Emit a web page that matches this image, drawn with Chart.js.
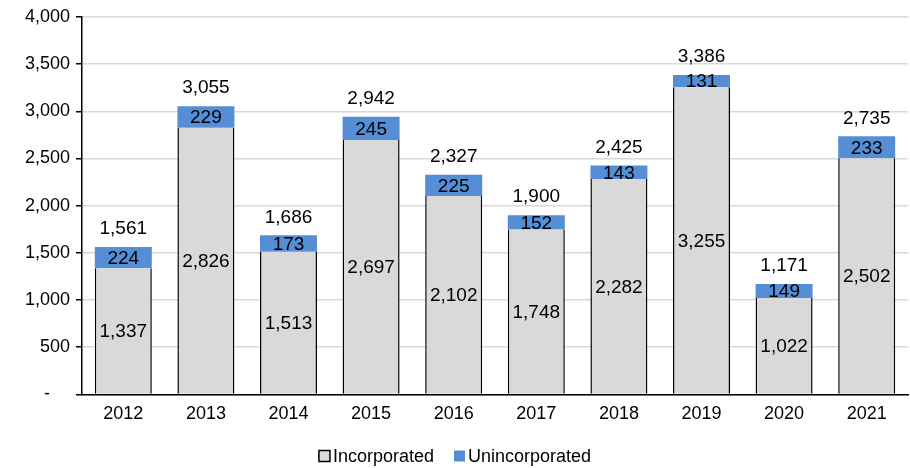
<!DOCTYPE html>
<html>
<head>
<meta charset="utf-8">
<script src="https://cdn.jsdelivr.net/npm/chart.js@4/dist/chart.umd.min.js"></script>
<style>
html,body{margin:0;padding:0;background:#fff;}
#wrap{width:910px;height:468px;position:relative;}
</style>
</head>
<body>
<div id="wrap"><canvas id="c" width="910" height="468"></canvas></div>
<script>
const years = ['2012','2013','2014','2015','2016','2017','2018','2019','2020','2021'];
const incorporated = [1337, 2826, 1513, 2697, 2102, 1748, 2282, 3255, 1022, 2502];
const unincorporated = [224, 229, 173, 245, 225, 152, 143, 131, 149, 233];
const totals = [1561, 3055, 1686, 2942, 2327, 1900, 2425, 3386, 1171, 2735];
const yTicks = [0, 500, 1000, 1500, 2000, 2500, 3000, 3500, 4000];
const seriesNames = ['Incorporated', 'Unincorporated'];

const FONT = '"Liberation Sans", Arial, sans-serif';
const fmt = v => v.toLocaleString('en-US');
const GRAY = '#d9d9d9', BLUE = '#558ed5';

const labelPlugin = {
  id: 'labels',
  afterDatasetsDraw(chart) {
    const ctx = chart.ctx;
    ctx.save();
    ctx.font = '19px ' + FONT;
    ctx.fillStyle = '#000';
    ctx.textAlign = 'center';
    ctx.textBaseline = 'middle';
    chart.data.datasets.forEach((ds, di) => {
      const meta = chart.getDatasetMeta(di);
      meta.data.forEach((bar, i) => {
        const yc = (bar.y + bar.base) / 2;
        ctx.fillText(fmt(ds.data[i]), bar.x, yc + 1);
      });
    });
    const ys = chart.scales.y;
    const m0 = chart.getDatasetMeta(0);
    totals.forEach((t, i) => {
      const x = m0.data[i].x;
      ctx.fillText(fmt(t), x, ys.getPixelForValue(t) - 18);
    });
    ctx.restore();
  },
  afterDraw(chart) {
    const ctx = chart.ctx;
    ctx.save();
    ctx.font = '18px ' + FONT;
    ctx.textBaseline = 'middle';
    ctx.textAlign = 'left';
    const box = 11, gap = 3, itemGap = 20;
    const widths = seriesNames.map(n => box + gap + ctx.measureText(n).width);
    const total = widths.reduce((a, b) => a + b, 0) + itemGap;
    let x = (chart.width - total) / 2;
    const y = 456;
    chart.data.datasets.forEach((ds, i) => {
      ctx.fillStyle = ds.backgroundColor;
      ctx.fillRect(x, y - box / 2, box, box);
      if (i === 0) {
        ctx.strokeStyle = '#000';
        ctx.lineWidth = 1.5;
        ctx.strokeRect(x, y - box / 2, box, box);
      }
      ctx.fillStyle = '#000';
      ctx.fillText(seriesNames[i], x + box + gap, y + 1);
      x += widths[i] + itemGap;
    });
    ctx.restore();
  }
};

new Chart(document.getElementById('c'), {
  type: 'bar',
  data: {
    labels: years,
    datasets: [
      {
        label: seriesNames[0],
        data: incorporated,
        backgroundColor: GRAY,
        borderColor: '#000',
        borderWidth: {top: 0, left: 1.5, right: 1.5, bottom: 0},
        borderSkipped: false,
        barPercentage: 0.69,
        categoryPercentage: 1
      },
      {
        label: seriesNames[1],
        data: unincorporated,
        backgroundColor: BLUE,
        borderWidth: 0,
        barPercentage: 0.69,
        categoryPercentage: 1
      }
    ]
  },
  options: {
    responsive: false,
    animation: false,
    devicePixelRatio: 1,
    layout: {padding: {top: 17, right: 2, left: 0, bottom: 42}},
    plugins: {
      legend: {display: false},
      tooltip: {enabled: false}
    },
    scales: {
      x: {
        stacked: true,
        grid: {display: false},
        border: {color: '#000', width: 1.5},
        ticks: {font: {family: FONT, size: 18}, color: '#000', padding: 1}
      },
      y: {
        stacked: true,
        min: 0,
        max: 4000,
        afterBuildTicks(scale) { scale.ticks = yTicks.map(v => ({value: v})); },
        afterFit(scale) { scale.width = 82; },
        grid: {color: '#d9d9d9', lineWidth: 1.5, tickColor: '#000', tickLength: 6},
        border: {color: '#000', width: 1.5},
        ticks: {
          font: {family: FONT, size: 18},
          color: '#000',
          padding: 6,
          callback: v => v === 0 ? '-    ' : fmt(v)
        }
      }
    }
  },
  plugins: [labelPlugin]
});
</script>
</body>
</html>
